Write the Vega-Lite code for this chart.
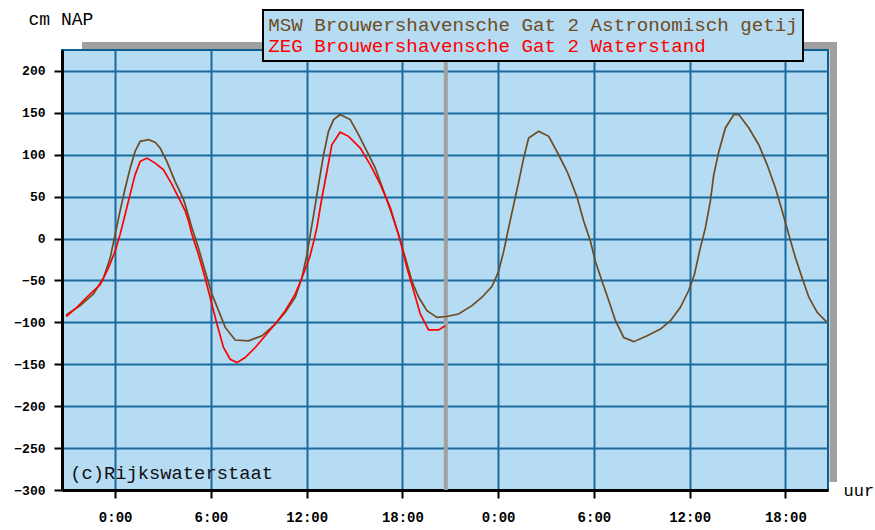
{
  "$schema": "https://vega.github.io/schema/vega-lite/v6.json",
  "width": 766,
  "height": 440,
  "autosize": "none",
  "padding": {"left": 62, "top": 50, "right": 47, "bottom": 40},
  "background": "white",
  "config": {
    "view": {"fill": "#b5dcf3", "stroke": "#0f5f94", "strokeWidth": 2},
    "font": "Liberation Mono"
  },
  "datasets": {
    "tide": [
      {"h": -3.07, "v": -91, "series": "MSW Brouwershavensche Gat 2 Astronomisch getij"},
      {"h": -2.19, "v": -80, "series": "MSW Brouwershavensche Gat 2 Astronomisch getij"},
      {"h": -1.36, "v": -66, "series": "MSW Brouwershavensche Gat 2 Astronomisch getij"},
      {"h": -0.73, "v": -47, "series": "MSW Brouwershavensche Gat 2 Astronomisch getij"},
      {"h": -0.31, "v": -23, "series": "MSW Brouwershavensche Gat 2 Astronomisch getij"},
      {"h": 0.0, "v": 5, "series": "MSW Brouwershavensche Gat 2 Astronomisch getij"},
      {"h": 0.31, "v": 33, "series": "MSW Brouwershavensche Gat 2 Astronomisch getij"},
      {"h": 0.63, "v": 60, "series": "MSW Brouwershavensche Gat 2 Astronomisch getij"},
      {"h": 0.94, "v": 84, "series": "MSW Brouwershavensche Gat 2 Astronomisch getij"},
      {"h": 1.25, "v": 104, "series": "MSW Brouwershavensche Gat 2 Astronomisch getij"},
      {"h": 1.57, "v": 116, "series": "MSW Brouwershavensche Gat 2 Astronomisch getij"},
      {"h": 2.09, "v": 118, "series": "MSW Brouwershavensche Gat 2 Astronomisch getij"},
      {"h": 2.5, "v": 115, "series": "MSW Brouwershavensche Gat 2 Astronomisch getij"},
      {"h": 2.82, "v": 108, "series": "MSW Brouwershavensche Gat 2 Astronomisch getij"},
      {"h": 3.24, "v": 92, "series": "MSW Brouwershavensche Gat 2 Astronomisch getij"},
      {"h": 3.76, "v": 68, "series": "MSW Brouwershavensche Gat 2 Astronomisch getij"},
      {"h": 4.28, "v": 47, "series": "MSW Brouwershavensche Gat 2 Astronomisch getij"},
      {"h": 4.6, "v": 27, "series": "MSW Brouwershavensche Gat 2 Astronomisch getij"},
      {"h": 4.81, "v": 13, "series": "MSW Brouwershavensche Gat 2 Astronomisch getij"},
      {"h": 5.22, "v": -11, "series": "MSW Brouwershavensche Gat 2 Astronomisch getij"},
      {"h": 5.64, "v": -39, "series": "MSW Brouwershavensche Gat 2 Astronomisch getij"},
      {"h": 6.06, "v": -66, "series": "MSW Brouwershavensche Gat 2 Astronomisch getij"},
      {"h": 6.48, "v": -86, "series": "MSW Brouwershavensche Gat 2 Astronomisch getij"},
      {"h": 6.9, "v": -106, "series": "MSW Brouwershavensche Gat 2 Astronomisch getij"},
      {"h": 7.52, "v": -121, "series": "MSW Brouwershavensche Gat 2 Astronomisch getij"},
      {"h": 8.36, "v": -122, "series": "MSW Brouwershavensche Gat 2 Astronomisch getij"},
      {"h": 9.2, "v": -116, "series": "MSW Brouwershavensche Gat 2 Astronomisch getij"},
      {"h": 10.03, "v": -102, "series": "MSW Brouwershavensche Gat 2 Astronomisch getij"},
      {"h": 10.66, "v": -88, "series": "MSW Brouwershavensche Gat 2 Astronomisch getij"},
      {"h": 11.29, "v": -70, "series": "MSW Brouwershavensche Gat 2 Astronomisch getij"},
      {"h": 11.7, "v": -47, "series": "MSW Brouwershavensche Gat 2 Astronomisch getij"},
      {"h": 12.02, "v": -19, "series": "MSW Brouwershavensche Gat 2 Astronomisch getij"},
      {"h": 12.23, "v": 5, "series": "MSW Brouwershavensche Gat 2 Astronomisch getij"},
      {"h": 12.48, "v": 33, "series": "MSW Brouwershavensche Gat 2 Astronomisch getij"},
      {"h": 12.75, "v": 65, "series": "MSW Brouwershavensche Gat 2 Astronomisch getij"},
      {"h": 13.06, "v": 100, "series": "MSW Brouwershavensche Gat 2 Astronomisch getij"},
      {"h": 13.37, "v": 128, "series": "MSW Brouwershavensche Gat 2 Astronomisch getij"},
      {"h": 13.69, "v": 142, "series": "MSW Brouwershavensche Gat 2 Astronomisch getij"},
      {"h": 14.1, "v": 148, "series": "MSW Brouwershavensche Gat 2 Astronomisch getij"},
      {"h": 14.73, "v": 142, "series": "MSW Brouwershavensche Gat 2 Astronomisch getij"},
      {"h": 15.25, "v": 124, "series": "MSW Brouwershavensche Gat 2 Astronomisch getij"},
      {"h": 15.78, "v": 104, "series": "MSW Brouwershavensche Gat 2 Astronomisch getij"},
      {"h": 16.3, "v": 84, "series": "MSW Brouwershavensche Gat 2 Astronomisch getij"},
      {"h": 16.82, "v": 57, "series": "MSW Brouwershavensche Gat 2 Astronomisch getij"},
      {"h": 17.34, "v": 29, "series": "MSW Brouwershavensche Gat 2 Astronomisch getij"},
      {"h": 17.76, "v": 5, "series": "MSW Brouwershavensche Gat 2 Astronomisch getij"},
      {"h": 18.18, "v": -23, "series": "MSW Brouwershavensche Gat 2 Astronomisch getij"},
      {"h": 18.6, "v": -51, "series": "MSW Brouwershavensche Gat 2 Astronomisch getij"},
      {"h": 19.02, "v": -70, "series": "MSW Brouwershavensche Gat 2 Astronomisch getij"},
      {"h": 19.54, "v": -86, "series": "MSW Brouwershavensche Gat 2 Astronomisch getij"},
      {"h": 20.17, "v": -94, "series": "MSW Brouwershavensche Gat 2 Astronomisch getij"},
      {"h": 20.75, "v": -93, "series": "MSW Brouwershavensche Gat 2 Astronomisch getij"},
      {"h": 21.52, "v": -90, "series": "MSW Brouwershavensche Gat 2 Astronomisch getij"},
      {"h": 22.36, "v": -80, "series": "MSW Brouwershavensche Gat 2 Astronomisch getij"},
      {"h": 22.99, "v": -70, "series": "MSW Brouwershavensche Gat 2 Astronomisch getij"},
      {"h": 23.62, "v": -57, "series": "MSW Brouwershavensche Gat 2 Astronomisch getij"},
      {"h": 24.03, "v": -39, "series": "MSW Brouwershavensche Gat 2 Astronomisch getij"},
      {"h": 24.35, "v": -15, "series": "MSW Brouwershavensche Gat 2 Astronomisch getij"},
      {"h": 24.66, "v": 13, "series": "MSW Brouwershavensche Gat 2 Astronomisch getij"},
      {"h": 24.98, "v": 41, "series": "MSW Brouwershavensche Gat 2 Astronomisch getij"},
      {"h": 25.29, "v": 68, "series": "MSW Brouwershavensche Gat 2 Astronomisch getij"},
      {"h": 25.6, "v": 96, "series": "MSW Brouwershavensche Gat 2 Astronomisch getij"},
      {"h": 25.91, "v": 120, "series": "MSW Brouwershavensche Gat 2 Astronomisch getij"},
      {"h": 26.54, "v": 128, "series": "MSW Brouwershavensche Gat 2 Astronomisch getij"},
      {"h": 27.17, "v": 122, "series": "MSW Brouwershavensche Gat 2 Astronomisch getij"},
      {"h": 27.79, "v": 100, "series": "MSW Brouwershavensche Gat 2 Astronomisch getij"},
      {"h": 28.32, "v": 80, "series": "MSW Brouwershavensche Gat 2 Astronomisch getij"},
      {"h": 28.53, "v": 70, "series": "MSW Brouwershavensche Gat 2 Astronomisch getij"},
      {"h": 28.95, "v": 49, "series": "MSW Brouwershavensche Gat 2 Astronomisch getij"},
      {"h": 29.36, "v": 21, "series": "MSW Brouwershavensche Gat 2 Astronomisch getij"},
      {"h": 29.78, "v": -3, "series": "MSW Brouwershavensche Gat 2 Astronomisch getij"},
      {"h": 30.09, "v": -27, "series": "MSW Brouwershavensche Gat 2 Astronomisch getij"},
      {"h": 30.51, "v": -51, "series": "MSW Brouwershavensche Gat 2 Astronomisch getij"},
      {"h": 30.93, "v": -74, "series": "MSW Brouwershavensche Gat 2 Astronomisch getij"},
      {"h": 31.35, "v": -98, "series": "MSW Brouwershavensche Gat 2 Astronomisch getij"},
      {"h": 31.87, "v": -118, "series": "MSW Brouwershavensche Gat 2 Astronomisch getij"},
      {"h": 32.5, "v": -123, "series": "MSW Brouwershavensche Gat 2 Astronomisch getij"},
      {"h": 33.34, "v": -116, "series": "MSW Brouwershavensche Gat 2 Astronomisch getij"},
      {"h": 34.17, "v": -108, "series": "MSW Brouwershavensche Gat 2 Astronomisch getij"},
      {"h": 34.8, "v": -98, "series": "MSW Brouwershavensche Gat 2 Astronomisch getij"},
      {"h": 35.42, "v": -82, "series": "MSW Brouwershavensche Gat 2 Astronomisch getij"},
      {"h": 35.94, "v": -62, "series": "MSW Brouwershavensche Gat 2 Astronomisch getij"},
      {"h": 36.3, "v": -43, "series": "MSW Brouwershavensche Gat 2 Astronomisch getij"},
      {"h": 36.62, "v": -15, "series": "MSW Brouwershavensche Gat 2 Astronomisch getij"},
      {"h": 36.99, "v": 13, "series": "MSW Brouwershavensche Gat 2 Astronomisch getij"},
      {"h": 37.3, "v": 45, "series": "MSW Brouwershavensche Gat 2 Astronomisch getij"},
      {"h": 37.51, "v": 76, "series": "MSW Brouwershavensche Gat 2 Astronomisch getij"},
      {"h": 37.83, "v": 104, "series": "MSW Brouwershavensche Gat 2 Astronomisch getij"},
      {"h": 38.24, "v": 132, "series": "MSW Brouwershavensche Gat 2 Astronomisch getij"},
      {"h": 38.77, "v": 148, "series": "MSW Brouwershavensche Gat 2 Astronomisch getij"},
      {"h": 39.08, "v": 148, "series": "MSW Brouwershavensche Gat 2 Astronomisch getij"},
      {"h": 39.71, "v": 132, "series": "MSW Brouwershavensche Gat 2 Astronomisch getij"},
      {"h": 40.33, "v": 112, "series": "MSW Brouwershavensche Gat 2 Astronomisch getij"},
      {"h": 40.86, "v": 88, "series": "MSW Brouwershavensche Gat 2 Astronomisch getij"},
      {"h": 41.38, "v": 60, "series": "MSW Brouwershavensche Gat 2 Astronomisch getij"},
      {"h": 41.8, "v": 33, "series": "MSW Brouwershavensche Gat 2 Astronomisch getij"},
      {"h": 42.21, "v": 5, "series": "MSW Brouwershavensche Gat 2 Astronomisch getij"},
      {"h": 42.63, "v": -23, "series": "MSW Brouwershavensche Gat 2 Astronomisch getij"},
      {"h": 43.05, "v": -47, "series": "MSW Brouwershavensche Gat 2 Astronomisch getij"},
      {"h": 43.47, "v": -70, "series": "MSW Brouwershavensche Gat 2 Astronomisch getij"},
      {"h": 43.99, "v": -88, "series": "MSW Brouwershavensche Gat 2 Astronomisch getij"},
      {"h": 44.61, "v": -100, "series": "MSW Brouwershavensche Gat 2 Astronomisch getij"},
      {"h": -3.07, "v": -93, "series": "ZEG Brouwershavensche Gat 2 Waterstand"},
      {"h": -2.4, "v": -82, "series": "ZEG Brouwershavensche Gat 2 Waterstand"},
      {"h": -1.78, "v": -70, "series": "ZEG Brouwershavensche Gat 2 Waterstand"},
      {"h": -0.94, "v": -55, "series": "ZEG Brouwershavensche Gat 2 Waterstand"},
      {"h": -0.42, "v": -35, "series": "ZEG Brouwershavensche Gat 2 Waterstand"},
      {"h": 0.0, "v": -15, "series": "ZEG Brouwershavensche Gat 2 Waterstand"},
      {"h": 0.31, "v": 5, "series": "ZEG Brouwershavensche Gat 2 Waterstand"},
      {"h": 0.63, "v": 29, "series": "ZEG Brouwershavensche Gat 2 Waterstand"},
      {"h": 0.94, "v": 53, "series": "ZEG Brouwershavensche Gat 2 Waterstand"},
      {"h": 1.25, "v": 76, "series": "ZEG Brouwershavensche Gat 2 Waterstand"},
      {"h": 1.57, "v": 92, "series": "ZEG Brouwershavensche Gat 2 Waterstand"},
      {"h": 1.99, "v": 96, "series": "ZEG Brouwershavensche Gat 2 Waterstand"},
      {"h": 2.51, "v": 90, "series": "ZEG Brouwershavensche Gat 2 Waterstand"},
      {"h": 3.03, "v": 82, "series": "ZEG Brouwershavensche Gat 2 Waterstand"},
      {"h": 3.55, "v": 65, "series": "ZEG Brouwershavensche Gat 2 Waterstand"},
      {"h": 4.08, "v": 45, "series": "ZEG Brouwershavensche Gat 2 Waterstand"},
      {"h": 4.39, "v": 33, "series": "ZEG Brouwershavensche Gat 2 Waterstand"},
      {"h": 4.6, "v": 21, "series": "ZEG Brouwershavensche Gat 2 Waterstand"},
      {"h": 4.81, "v": 5, "series": "ZEG Brouwershavensche Gat 2 Waterstand"},
      {"h": 5.22, "v": -19, "series": "ZEG Brouwershavensche Gat 2 Waterstand"},
      {"h": 5.64, "v": -47, "series": "ZEG Brouwershavensche Gat 2 Waterstand"},
      {"h": 6.06, "v": -78, "series": "ZEG Brouwershavensche Gat 2 Waterstand"},
      {"h": 6.38, "v": -102, "series": "ZEG Brouwershavensche Gat 2 Waterstand"},
      {"h": 6.79, "v": -130, "series": "ZEG Brouwershavensche Gat 2 Waterstand"},
      {"h": 7.21, "v": -144, "series": "ZEG Brouwershavensche Gat 2 Waterstand"},
      {"h": 7.63, "v": -148, "series": "ZEG Brouwershavensche Gat 2 Waterstand"},
      {"h": 8.15, "v": -142, "series": "ZEG Brouwershavensche Gat 2 Waterstand"},
      {"h": 8.78, "v": -130, "series": "ZEG Brouwershavensche Gat 2 Waterstand"},
      {"h": 9.4, "v": -116, "series": "ZEG Brouwershavensche Gat 2 Waterstand"},
      {"h": 10.03, "v": -102, "series": "ZEG Brouwershavensche Gat 2 Waterstand"},
      {"h": 10.66, "v": -86, "series": "ZEG Brouwershavensche Gat 2 Waterstand"},
      {"h": 11.29, "v": -66, "series": "ZEG Brouwershavensche Gat 2 Waterstand"},
      {"h": 11.7, "v": -47, "series": "ZEG Brouwershavensche Gat 2 Waterstand"},
      {"h": 12.18, "v": -23, "series": "ZEG Brouwershavensche Gat 2 Waterstand"},
      {"h": 12.45, "v": -3, "series": "ZEG Brouwershavensche Gat 2 Waterstand"},
      {"h": 12.64, "v": 13, "series": "ZEG Brouwershavensche Gat 2 Waterstand"},
      {"h": 12.96, "v": 49, "series": "ZEG Brouwershavensche Gat 2 Waterstand"},
      {"h": 13.27, "v": 80, "series": "ZEG Brouwershavensche Gat 2 Waterstand"},
      {"h": 13.58, "v": 112, "series": "ZEG Brouwershavensche Gat 2 Waterstand"},
      {"h": 14.1, "v": 127, "series": "ZEG Brouwershavensche Gat 2 Waterstand"},
      {"h": 14.63, "v": 122, "series": "ZEG Brouwershavensche Gat 2 Waterstand"},
      {"h": 15.36, "v": 108, "series": "ZEG Brouwershavensche Gat 2 Waterstand"},
      {"h": 15.99, "v": 88, "series": "ZEG Brouwershavensche Gat 2 Waterstand"},
      {"h": 16.61, "v": 65, "series": "ZEG Brouwershavensche Gat 2 Waterstand"},
      {"h": 17.24, "v": 37, "series": "ZEG Brouwershavensche Gat 2 Waterstand"},
      {"h": 17.87, "v": -3, "series": "ZEG Brouwershavensche Gat 2 Waterstand"},
      {"h": 18.29, "v": -35, "series": "ZEG Brouwershavensche Gat 2 Waterstand"},
      {"h": 18.7, "v": -62, "series": "ZEG Brouwershavensche Gat 2 Waterstand"},
      {"h": 19.12, "v": -90, "series": "ZEG Brouwershavensche Gat 2 Waterstand"},
      {"h": 19.64, "v": -109, "series": "ZEG Brouwershavensche Gat 2 Waterstand"},
      {"h": 20.27, "v": -109, "series": "ZEG Brouwershavensche Gat 2 Waterstand"},
      {"h": 20.69, "v": -104, "series": "ZEG Brouwershavensche Gat 2 Waterstand"}
    ]
  },
  "layer": [
    {
      "data": {"values": [{}]},
      "mark": {"type": "rect", "color": "#a0a0a0", "clip": false},
      "encoding": {
        "x": {"datum": -2.077, "type": "quantitative", "scale": {"domain": [-3.33, 44.67], "nice": false, "zero": false}},
        "x2": {"datum": 45.235},
        "y": {"datum": 226.2, "type": "quantitative", "scale": {"domain": [-300, 225], "nice": false, "zero": false}},
        "y2": {"datum": 234.5}
      }
    },
    {
      "data": {"values": [{}]},
      "mark": {"type": "rect", "color": "#a0a0a0", "clip": false},
      "encoding": {
        "x": {"datum": 44.765, "type": "quantitative"},
        "x2": {"datum": 45.235},
        "y": {"datum": -290.5, "type": "quantitative"},
        "y2": {"datum": 234.5}
      }
    },
    {
      "data": {"values": [{}]},
      "mark": {"type": "rule", "color": "#a0a0a0", "strokeWidth": 4},
      "encoding": {
        "x": {"datum": 20.72, "type": "quantitative"}
      }
    },
    {
      "data": {"name": "tide"},
      "mark": {"type": "line", "strokeWidth": 1.7, "clip": true},
      "encoding": {
        "x": {
          "field": "h",
          "type": "quantitative",
          "scale": {"domain": [-3.33, 44.67], "nice": false, "zero": false},
          "axis": {
            "values": [0, 6, 12, 18, 24, 30, 36, 42],
            "labelExpr": "(datum.value % 24) + ':00'",
            "grid": true,
            "gridColor": "#1a6a9e",
            "gridWidth": 2,
            "gridOpacity": 1,
            "domainColor": "black",
            "domainWidth": 3,
            "tickColor": "black",
            "tickWidth": 2,
            "tickSize": 8,
            "labelPadding": 12,
            "labelFont": "Liberation Mono",
            "labelFontWeight": "bold",
            "labelFontSize": 14,
            "labelColor": "black",
            "labelFlush": false,
            "title": "uur",
            "titleX": 781,
            "titleY": 0,
            "titleAlign": "left",
            "titleBaseline": "middle",
            "titleFont": "Liberation Mono",
            "titleFontSize": 17,
            "titleFontWeight": "normal",
            "titleColor": "black"
          }
        },
        "y": {
          "field": "v",
          "type": "quantitative",
          "scale": {"domain": [-300, 225], "nice": false, "zero": false},
          "axis": {
            "values": [-300, -250, -200, -150, -100, -50, 0, 50, 100, 150, 200],
            "grid": true,
            "gridColor": "#1a6a9e",
            "gridWidth": 2,
            "gridOpacity": 1,
            "domainColor": "black",
            "domainWidth": 3,
            "tickColor": "black",
            "tickWidth": 2,
            "tickSize": 8,
            "labelPadding": 9,
            "labelFont": "Liberation Mono",
            "labelFontWeight": "bold",
            "labelFontSize": 13,
            "labelColor": "black",
            "labelFlush": false,
            "title": "cm NAP",
            "titleAngle": 0,
            "titleX": -34,
            "titleY": -31,
            "titleAlign": "left",
            "titleBaseline": "middle",
            "titleFont": "Liberation Mono",
            "titleFontSize": 18,
            "titleFontWeight": "normal",
            "titleColor": "black"
          }
        },
        "color": {
          "field": "series",
          "type": "nominal",
          "scale": {
            "domain": ["MSW Brouwershavensche Gat 2 Astronomisch getij", "ZEG Brouwershavensche Gat 2 Waterstand"],
            "range": ["#6e4b22", "#ff0000"]
          },
          "legend": {
            "orient": "none",
            "legendX": 201,
            "legendY": -40,
            "direction": "vertical",
            "title": null,
            "fillColor": "#b5dcf3",
            "strokeColor": "black",
            "padding": 5,
            "rowPadding": 1,
            "symbolSize": 0,
            "symbolStrokeWidth": 0,
            "symbolOpacity": 0,
            "labelOffset": -19,
            "labelFont": "Liberation Mono",
            "labelFontSize": 19.2,
            "labelLimit": 1000,
            "encode": {
              "legend": {"update": {"strokeWidth": {"value": 2}}},
              "labels": {"update": {"fill": {"signal": "datum.value === 'ZEG Brouwershavensche Gat 2 Waterstand' ? '#ff0000' : '#6e4b22'"}}}
            }
          }
        }
      }
    },
    {
      "data": {"values": [{"t": "(c)Rijkswaterstaat"}]},
      "mark": {"type": "text", "align": "left", "baseline": "middle", "font": "Liberation Mono", "fontSize": 18.8, "color": "#111111"},
      "encoding": {
        "x": {"datum": -2.82, "type": "quantitative"},
        "y": {"datum": -279.7, "type": "quantitative"},
        "text": {"field": "t"}
      }
    }
  ]
}
